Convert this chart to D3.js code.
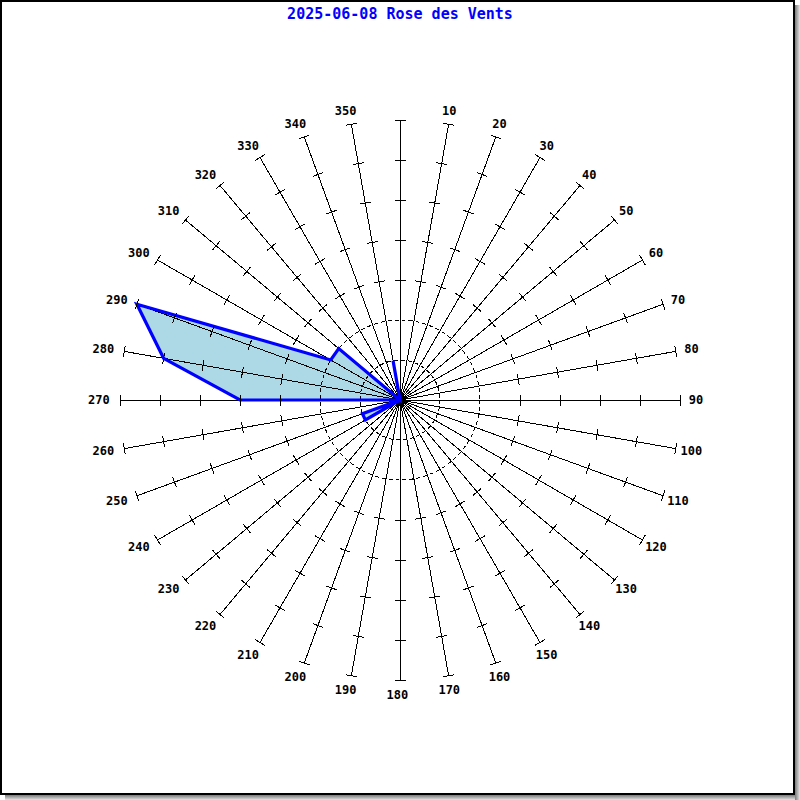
<!DOCTYPE html>
<html>
<head>
<meta charset="utf-8">
<script src="https://cdn.jsdelivr.net/npm/d3@7"></script>
<style>
  html, body { margin: 0; padding: 0; background: #fff; }
  svg { display: block; }
</style>
</head>
<body>
<svg id="chart" width="800" height="800"></svg>
<script>
// ---- data ----
const title = "2025-06-08 Rose des Vents";
const directions = [0, 10, 20, 30, 40, 50, 60, 70, 80, 90, 100, 110, 120, 130, 140, 150, 160, 170,
                    180, 190, 200, 210, 220, 230, 240, 250, 260, 270, 280, 290, 300, 310, 320, 330, 340, 350];
const frequencies = [0, 0, 0, 0, 0, 0, 0, 0, 0, 0, 0, 0, 0, 0, 0, 0, 0, 0,
                     0, 0, 0, 0, 0, 0, 1, 1, 0, 4, 6, 7, 2, 2, 0, 0, 0, 1];
const ringLevels = [1, 2];          // dashed circles
const tickLevels = [3, 4, 5, 6];    // ticks on spokes
const maxLevel = 7;                 // outer end of spokes
const dirLabels = ["", "10", "20", "30", "40", "50", "60", "70", "80", "90", "100", "110", "120", "130",
                   "140", "150", "160", "170", "180", "190", "200", "210", "220", "230", "240", "250",
                   "260", "270", "280", "290", "300", "310", "320", "330", "340", "350"];

// ---- setup ----
const W = 800, H = 800, cx = 400, cy = 400;
const svg = d3.select("#chart");
const rScale = d3.scaleLinear().domain([0, maxLevel]).range([0, 280]);
const rad = d => d * Math.PI / 180;

// frame with shadow
const defs = svg.append("defs");
const gR = defs.append("linearGradient").attr("id", "shR").attr("x1", 0).attr("x2", 1).attr("y1", 0).attr("y2", 0);
gR.append("stop").attr("offset", "0%").attr("stop-color", "#7a7a7a");
gR.append("stop").attr("offset", "100%").attr("stop-color", "#e6e6e6");
const gB = defs.append("linearGradient").attr("id", "shB").attr("x1", 0).attr("x2", 0).attr("y1", 0).attr("y2", 1);
gB.append("stop").attr("offset", "0%").attr("stop-color", "#7a7a7a");
gB.append("stop").attr("offset", "100%").attr("stop-color", "#e6e6e6");
svg.append("rect").attr("x", 795).attr("y", 5).attr("width", 5).attr("height", 795).attr("fill", "url(#shR)");
svg.append("rect").attr("x", 5).attr("y", 795).attr("width", 790).attr("height", 5).attr("fill", "url(#shB)");
svg.append("rect").attr("x", 1).attr("y", 1).attr("width", 793).attr("height", 793)
  .attr("fill", "#fff").attr("stroke", "#000").attr("stroke-width", 2).attr("shape-rendering", "crispEdges");

// title
svg.append("text").attr("x", 400).attr("y", 19).attr("text-anchor", "middle")
  .attr("font-family", "'DejaVu Sans Mono', monospace").attr("font-weight", "bold").attr("font-size", 15)
  .attr("fill", "#0000ff").text(title);

const g = svg.append("g").attr("transform", `translate(${cx},${cy})`);
const data = directions.map((d, i) => ({ dir: d, v: frequencies[i] }));

// polygon fill
const radial = d3.lineRadial().angle(d => rad(d.dir)).radius(d => rScale(d.v)).curve(d3.curveLinearClosed);
g.append("path").attr("d", radial(data)).attr("fill", "#add8e6").attr("stroke", "none");

// spokes
g.selectAll("line.spoke").data(directions).join("line").attr("class", "spoke")
  .attr("x1", 0).attr("y1", 0)
  .attr("x2", d => rScale(maxLevel) * Math.sin(rad(d)))
  .attr("y2", d => -rScale(maxLevel) * Math.cos(rad(d)))
  .attr("stroke", "#000").attr("stroke-width", 1).attr("shape-rendering", "crispEdges");

// dashed circles
g.selectAll("circle.ring").data(ringLevels).join("circle").attr("class", "ring")
  .attr("r", d => rScale(d)).attr("fill", "none").attr("stroke", "#000")
  .attr("stroke-width", 1).attr("stroke-dasharray", "4,3").attr("shape-rendering", "crispEdges");

// center hub where spokes converge
g.append("circle").attr("r", 4).attr("fill", "#000");

// polygon outline
g.append("path").attr("d", radial(data)).attr("fill", "none").attr("stroke", "#0000ff")
  .attr("stroke-width", 3.2).attr("stroke-linejoin", "miter");

// ticks
const tickData = [];
directions.forEach(d => tickLevels.concat([maxLevel]).forEach(l => tickData.push({ dir: d, l })));
const half = 5.5;
g.selectAll("line.tick").data(tickData).join("line").attr("class", "tick")
  .attr("x1", t => rScale(t.l) * Math.sin(rad(t.dir)) - half * Math.cos(rad(t.dir)))
  .attr("y1", t => -rScale(t.l) * Math.cos(rad(t.dir)) - half * Math.sin(rad(t.dir)))
  .attr("x2", t => rScale(t.l) * Math.sin(rad(t.dir)) + half * Math.cos(rad(t.dir)))
  .attr("y2", t => -rScale(t.l) * Math.cos(rad(t.dir)) + half * Math.sin(rad(t.dir)))
  .attr("stroke", "#000").attr("stroke-width", 1).attr("shape-rendering", "crispEdges");

// direction labels
g.selectAll("text.lbl").data(directions.map((d, i) => ({ dir: d, label: dirLabels[i] })).filter(d => d.label !== ""))
  .join("text").attr("class", "lbl")
  .attr("x", d => 298.6 * Math.sin(rad(d.dir)) - 2.6)
  .attr("y", d => -294.2 * Math.cos(rad(d.dir)))
  .attr("dy", "0.36em")
  .attr("text-anchor", "middle")
  .attr("font-family", "'DejaVu Sans Mono', monospace").attr("font-weight", "bold").attr("font-size", 12)
  .attr("fill", "#000").text(d => d.label);
</script>
</body>
</html>
